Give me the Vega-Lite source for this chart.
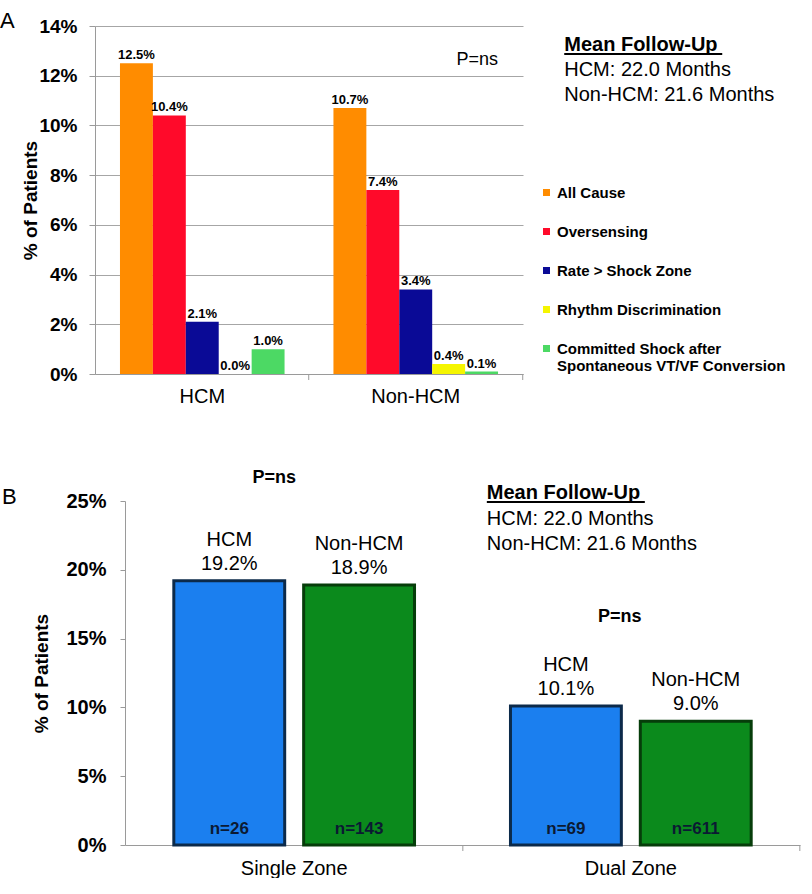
{
  "$schema": "https://vega.github.io/schema/vega-lite/v6.json",
  "padding": {"left": 0, "top": 10, "right": 0, "bottom": 0},
  "background": "white",
  "spacing": 63,
  "resolve": {"scale": {"color": "independent", "stroke": "independent", "xOffset": "independent", "x": "independent", "y": "independent"}, "legend": {"color": "independent", "stroke": "independent"}},
  "config": {
    "font": "Liberation Sans",
    "view": {"stroke": null},
    "axis": {"labelFont": "Liberation Sans", "titleFont": "Liberation Sans", "labelColor": "black", "titleColor": "black", "domainColor": "#9a9a9a", "tickColor": "#9a9a9a"},
    "title": {"font": "Liberation Sans", "color": "black"},
    "text": {"font": "Liberation Sans", "color": "black"}
  },
  "vconcat": [
    {
      "width": 428,
      "height": 348,
      "title": {"text": "A", "anchor": "start", "frame": "group", "dx": -95, "offset": -16, "fontSize": 22, "fontWeight": "normal"},
      "data": {"values": [
        {"group": "HCM", "cause": "All Cause", "pct": 0.125},
        {"group": "HCM", "cause": "Oversensing", "pct": 0.104},
        {"group": "HCM", "cause": "Rate > Shock Zone", "pct": 0.021},
        {"group": "HCM", "cause": "Rhythm Discrimination", "pct": 0.0},
        {"group": "HCM", "cause": "Committed Shock after Spontaneous VT/VF Conversion", "pct": 0.010},
        {"group": "Non-HCM", "cause": "All Cause", "pct": 0.107},
        {"group": "Non-HCM", "cause": "Oversensing", "pct": 0.074},
        {"group": "Non-HCM", "cause": "Rate > Shock Zone", "pct": 0.034},
        {"group": "Non-HCM", "cause": "Rhythm Discrimination", "pct": 0.004},
        {"group": "Non-HCM", "cause": "Committed Shock after Spontaneous VT/VF Conversion", "pct": 0.001}
      ]},
      "encoding": {
        "x": {"field": "group", "type": "nominal", "sort": ["HCM", "Non-HCM"],
          "scale": {"paddingInner": 0.229, "paddingOuter": 0.117},
          "axis": {"title": null, "labelAngle": 0, "labelFontSize": 20, "ticks": false, "labelPadding": 12}}
      },
      "layer": [
        {
          "mark": {"type": "bar"},
          "encoding": {
            "xOffset": {"field": "cause", "type": "nominal", "sort": ["All Cause", "Oversensing", "Rate > Shock Zone", "Rhythm Discrimination", "Committed Shock after Spontaneous VT/VF Conversion"], "scale": {"paddingInner": 0, "paddingOuter": 0}},
            "y": {"field": "pct", "type": "quantitative", "scale": {"domain": [0, 0.14], "nice": false},
              "axis": {"values": [0, 0.02, 0.04, 0.06, 0.08, 0.1, 0.12, 0.14], "format": ".0%", "title": "% of Patients", "grid": true, "gridColor": "#a6a6a6", "labelFontSize": 19, "labelFontWeight": "bold", "titleFontSize": 19, "titleFontWeight": "bold", "tickSize": 6, "labelPadding": 12, "titlePadding": -2}},
            "color": {"field": "cause", "type": "nominal",
              "scale": {"domain": ["All Cause", "Oversensing", "Rate > Shock Zone", "Rhythm Discrimination", "Committed Shock after Spontaneous VT/VF Conversion"], "range": ["#ff8c00", "#ff0a2a", "#0a0a96", "#f5f500", "#4cd964"]},
              "legend": {"title": null, "orient": "none", "legendX": 444, "legendY": 159, "padding": 0, "symbolType": "square", "symbolSize": 49, "symbolStrokeWidth": 0, "labelFontSize": 15, "labelFontWeight": "bold", "labelColor": "black", "labelLimit": 300, "labelOffset": 3, "rowPadding": 23,
                "labelExpr": "datum.label == 'Committed Shock after Spontaneous VT/VF Conversion' ? ['Committed Shock after', 'Spontaneous VT/VF Conversion'] : datum.label"}}
          }
        },
        {
          "mark": {"type": "text", "baseline": "bottom", "dy": -1, "fontSize": 13, "fontWeight": "bold"},
          "encoding": {
            "xOffset": {"field": "cause", "type": "nominal", "sort": ["All Cause", "Oversensing", "Rate > Shock Zone", "Rhythm Discrimination", "Committed Shock after Spontaneous VT/VF Conversion"]},
            "y": {"field": "pct", "type": "quantitative", "scale": {"domain": [0, 0.14], "nice": false}},
            "text": {"field": "pct", "type": "quantitative", "format": ".1%"}
          }
        },
        {
          "data": {"values": [{}]},
          "mark": {"type": "rule", "strokeWidth": 1, "color": "#9a9a9a", "xOffset": -107, "y2Offset": 6},
          "encoding": {"x": {"datum": "Non-HCM"}, "y": {"datum": 0, "scale": {"domain": [0, 0.14], "nice": false}}, "y2": {"datum": 0}}
        },
        {
          "data": {"values": [{}]},
          "mark": {"type": "rule", "strokeWidth": 1, "color": "#9a9a9a", "xOffset": 107, "y2Offset": 6},
          "encoding": {"x": {"datum": "Non-HCM"}, "y": {"datum": 0, "scale": {"domain": [0, 0.14], "nice": false}}, "y2": {"datum": 0}}
        },
        {
          "data": {"values": [{}]},
          "mark": {"type": "text", "fontSize": 18, "dx": 61.5},
          "encoding": {"x": {"datum": "Non-HCM"}, "y": {"datum": 0.1263, "scale": {"domain": [0, 0.14], "nice": false}}, "text": {"value": "P=ns"}}
        },
        {
          "data": {"values": [{}]},
          "mark": {"type": "text", "fontSize": 20, "fontWeight": "bold", "align": "left", "dx": 148.5},
          "encoding": {"x": {"datum": "Non-HCM"}, "y": {"datum": 0.1324, "scale": {"domain": [0, 0.14], "nice": false}}, "text": {"value": "Mean Follow-Up"}}
        },
        {
          "data": {"values": [{}]},
          "mark": {"type": "rule", "strokeWidth": 2, "color": "black", "xOffset": 148.5, "x2Offset": 306.5},
          "encoding": {"x": {"datum": "Non-HCM"}, "x2": {"datum": "Non-HCM"}, "y": {"datum": 0.1287, "scale": {"domain": [0, 0.14], "nice": false}}}
        },
        {
          "data": {"values": [{}]},
          "mark": {"type": "text", "fontSize": 20, "align": "left", "dx": 148.5, "lineHeight": 25},
          "encoding": {"x": {"datum": "Non-HCM"}, "y": {"datum": 0.1223, "scale": {"domain": [0, 0.14], "nice": false}}, "text": {"value": ["HCM: 22.0 Months", "Non-HCM: 21.6 Months"]}}
        }
      ]
    },
    {
      "width": 705,
      "height": 344,
      "title": {"text": "B", "anchor": "start", "frame": "group", "dx": -93, "offset": -40, "fontSize": 22, "fontWeight": "normal"},
      "data": {"values": [
        {"zone": "Single Zone", "group": "HCM", "pct": 0.192, "n": "n=26"},
        {"zone": "Single Zone", "group": "Non-HCM", "pct": 0.189, "n": "n=143"},
        {"zone": "Dual Zone", "group": "HCM", "pct": 0.101, "n": "n=69"},
        {"zone": "Dual Zone", "group": "Non-HCM", "pct": 0.090, "n": "n=611"}
      ]},
      "encoding": {
        "x": {"field": "zone", "type": "nominal", "sort": ["Single Zone", "Dual Zone"],
          "scale": {"range": [30, 705], "paddingInner": 0.285, "paddingOuter": 0.145},
          "axis": {"title": null, "labelAngle": 0, "labelFontSize": 20, "ticks": false, "labelPadding": 13}}
      },
      "layer": [
        {
          "mark": {"type": "bar", "strokeWidth": 3},
          "encoding": {
            "xOffset": {"field": "group", "type": "nominal", "sort": ["HCM", "Non-HCM"], "scale": {"paddingInner": 0.146, "paddingOuter": 0}},
            "y": {"field": "pct", "type": "quantitative", "scale": {"domain": [0, 0.25], "nice": false},
              "axis": {"values": [0, 0.05, 0.1, 0.15, 0.2, 0.25], "format": ".0%", "title": "% of Patients", "grid": false, "offset": -30, "labelFontSize": 20, "labelFontWeight": "bold", "titleFontSize": 19, "titleFontWeight": "bold", "tickSize": 5, "labelPadding": 14, "titlePadding": 14}},
            "color": {"field": "group", "type": "nominal", "scale": {"domain": ["HCM", "Non-HCM"], "range": ["#1b7fef", "#0b8a1c"]}, "legend": null},
            "stroke": {"field": "group", "type": "nominal", "scale": {"domain": ["HCM", "Non-HCM"], "range": ["#0c2a4a", "#063d0a"]}, "legend": null}
          }
        },
        {
          "mark": {"type": "text", "baseline": "middle", "dy": -17, "fontSize": 20},
          "encoding": {
            "xOffset": {"field": "group", "type": "nominal", "sort": ["HCM", "Non-HCM"]},
            "y": {"field": "pct", "type": "quantitative", "scale": {"domain": [0, 0.25], "nice": false}},
            "text": {"field": "pct", "type": "quantitative", "format": ".1%"}
          }
        },
        {
          "mark": {"type": "text", "baseline": "middle", "dy": -41, "fontSize": 20},
          "encoding": {
            "xOffset": {"field": "group", "type": "nominal", "sort": ["HCM", "Non-HCM"]},
            "y": {"field": "pct", "type": "quantitative", "scale": {"domain": [0, 0.25], "nice": false}},
            "text": {"field": "group", "type": "nominal"}
          }
        },
        {
          "mark": {"type": "text", "baseline": "middle", "dy": -16, "fontSize": 17, "fontWeight": "bold", "color": "#0b1a33"},
          "encoding": {
            "xOffset": {"field": "group", "type": "nominal", "sort": ["HCM", "Non-HCM"]},
            "y": {"datum": 0, "scale": {"domain": [0, 0.25], "nice": false}},
            "text": {"field": "n", "type": "nominal"}
          }
        },
        {
          "data": {"values": [{}]},
          "mark": {"type": "rule", "strokeWidth": 1, "color": "#9a9a9a", "xOffset": -168, "y2Offset": 6},
          "encoding": {"x": {"datum": "Dual Zone"}, "y": {"datum": 0, "scale": {"domain": [0, 0.25], "nice": false}}, "y2": {"datum": 0}}
        },
        {
          "data": {"values": [{}]},
          "mark": {"type": "rule", "strokeWidth": 1, "color": "#9a9a9a", "xOffset": 169, "y2Offset": 6},
          "encoding": {"x": {"datum": "Dual Zone"}, "y": {"datum": 0, "scale": {"domain": [0, 0.25], "nice": false}}, "y2": {"datum": 0}}
        },
        {
          "data": {"values": [{}]},
          "mark": {"type": "text", "fontSize": 18, "fontWeight": "bold", "dx": -20},
          "encoding": {"x": {"datum": "Single Zone"}, "y": {"datum": 0.2667, "scale": {"domain": [0, 0.25], "nice": false}}, "text": {"value": "P=ns"}}
        },
        {
          "data": {"values": [{}]},
          "mark": {"type": "text", "fontSize": 18, "fontWeight": "bold", "dx": -11},
          "encoding": {"x": {"datum": "Dual Zone"}, "y": {"datum": 0.1657, "scale": {"domain": [0, 0.25], "nice": false}}, "text": {"value": "P=ns"}}
        },
        {
          "data": {"values": [{}]},
          "mark": {"type": "text", "fontSize": 20, "fontWeight": "bold", "align": "left", "dx": -144},
          "encoding": {"x": {"datum": "Dual Zone"}, "y": {"datum": 0.2558, "scale": {"domain": [0, 0.25], "nice": false}}, "text": {"value": "Mean Follow-Up"}}
        },
        {
          "data": {"values": [{}]},
          "mark": {"type": "rule", "strokeWidth": 2, "color": "black", "xOffset": -144, "x2Offset": 14},
          "encoding": {"x": {"datum": "Dual Zone"}, "x2": {"datum": "Dual Zone"}, "y": {"datum": 0.2493, "scale": {"domain": [0, 0.25], "nice": false}}}
        },
        {
          "data": {"values": [{}]},
          "mark": {"type": "text", "fontSize": 20, "align": "left", "dx": -144, "lineHeight": 25},
          "encoding": {"x": {"datum": "Dual Zone"}, "y": {"datum": 0.2369, "scale": {"domain": [0, 0.25], "nice": false}}, "text": {"value": ["HCM: 22.0 Months", "Non-HCM: 21.6 Months"]}}
        }
      ]
    }
  ]
}
